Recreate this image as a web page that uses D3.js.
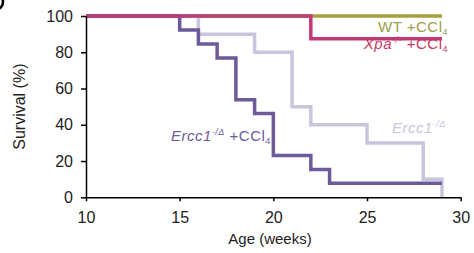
<!DOCTYPE html>
<html>
<head>
<meta charset="utf-8">
<script src="https://cdn.jsdelivr.net/npm/d3@7"></script>
<style>
  body { margin: 0; background: #fff; }
  svg { display: block; font-family: 'Liberation Sans', Arial, sans-serif; }
</style>
</head>
<body>
<script>
// survival curves, step after each week value
const ercc1_ccl4_weeks = [10, 15, 16, 17, 18, 19, 20, 22, 23, 29]
const ercc1_ccl4_surv = [100, 92.3, 84.6, 76.9, 53.8, 46.2, 23.1, 15.4, 7.7, 7.7]
const ercc1_weeks = [10, 16, 19, 21, 22, 25, 28, 29]
const ercc1_surv = [100, 90, 80, 50, 40, 30, 10, 0]
const wt_weeks = [10, 29]
const wt_surv = [100, 100]
const xpa_weeks = [10, 22, 29]
const xpa_surv = [100, 87.5, 87.5]

const x_ticks = [10, 15, 20, 25, 30]
const y_ticks = [0, 20, 40, 60, 80, 100]

const width = 474
const height = 253
const margin = {top: 16, right: 13.3, bottom: 55.7, left: 86}

const pts = (w, s) => w.map((d, i) => [d, s[i]])

const series = [
  {name: 'wt', data: pts(wt_weeks, wt_surv), color: '#a6a23e'},
  {name: 'ercc1', data: pts(ercc1_weeks, ercc1_surv), color: '#c9c5dd'},
  {name: 'ercc1_ccl4', data: pts(ercc1_ccl4_weeks, ercc1_ccl4_surv), color: '#6c5b9b'},
  {name: 'xpa', data: pts(xpa_weeks, xpa_surv), color: '#bd3a76'},
]

const svg = d3.select('body').append('svg')
  .attr('width', width)
  .attr('height', height)

const x = d3.scaleLinear()
  .domain([10, 30])
  .range([margin.left, width - margin.right])

const y = d3.scaleLinear()
  .domain([0, 100])
  .range([height - margin.bottom, margin.top])

// edge of the panel letter, cropped in the source
svg.append('ellipse')
  .attr('cx', -3)
  .attr('cy', 2)
  .attr('rx', 6)
  .attr('ry', 7)
  .attr('fill', 'none')
  .attr('stroke', '#000')
  .attr('stroke-width', 2.5)

const line = d3.line()
  .x(d => x(d[0]))
  .y(d => y(d[1]))
  .curve(d3.curveStepAfter)

svg.append('g')
  .selectAll('path')
  .data(series)
  .join('path')
    .attr('d', d => line(d.data))
    .attr('fill', 'none')
    .attr('stroke', d => d.color)
    .attr('stroke-width', 3.5)

const xa = svg.append('g')
  .attr('transform', `translate(0,${height - margin.bottom})`)
  .call(d3.axisBottom(x).tickValues(x_ticks).tickSize(4).tickPadding(10).tickSizeOuter(0))
const ya = svg.append('g')
  .attr('transform', `translate(${margin.left},0)`)
  .call(d3.axisLeft(y).tickValues(y_ticks).tickSize(5).tickPadding(8).tickSizeOuter(0))

for (const a of [xa, ya]) {
  a.selectAll('path, line').attr('stroke', '#000').attr('stroke-width', 1.5)
  a.selectAll('text').attr('font-size', 16).attr('fill', '#222').attr('font-family', null)
}

svg.append('text')
  .attr('x', 270)
  .attr('y', 244)
  .attr('text-anchor', 'middle')
  .attr('font-size', 15)
  .attr('fill', '#222')
  .text('Age (weeks)')

svg.append('text')
  .attr('transform', `translate(25,${(margin.top + height - margin.bottom) / 2}) rotate(-90)`)
  .attr('text-anchor', 'middle')
  .attr('font-size', 16)
  .attr('fill', '#222')
  .text('Survival (%)')

// series labels
function label(xp, yp, anchor, color, parts) {
  const t = svg.append('text')
    .attr('x', xp)
    .attr('y', yp)
    .attr('text-anchor', anchor)
    .attr('font-size', 15)
    .attr('letter-spacing', 0.5)
    .attr('fill', color)
  for (const p of parts) {
    const s = t.append('tspan').text(p.t)
    if (p.i) s.attr('font-style', 'italic')
    if (p.sup) s.attr('font-size', 9).attr('dy', -6)
    if (p.sub) s.attr('font-size', 9).attr('dy', 3)
    if (p.reset) s.attr('dy', p.reset)
  }
}

label(448, 32, 'end', '#9aa04c', [{t: 'WT +CCl'}, {t: '4', sub: true}])
label(448, 49, 'end', '#c83c5c', [{t: 'Xpa', i: true}, {t: '-/-', sup: true, i: true}, {t: ' +CCl', reset: 6}, {t: '4', sub: true}])
label(171, 141, 'start', '#6c5b9b', [{t: 'Ercc1', i: true}, {t: '-/\u0394', sup: true, i: true}, {t: ' +CCl', reset: 6}, {t: '4', sub: true}])
label(392, 133, 'start', '#c9c5dd', [{t: 'Ercc1', i: true}, {t: '-/\u0394', sup: true, i: true}])
</script>
</body>
</html>
